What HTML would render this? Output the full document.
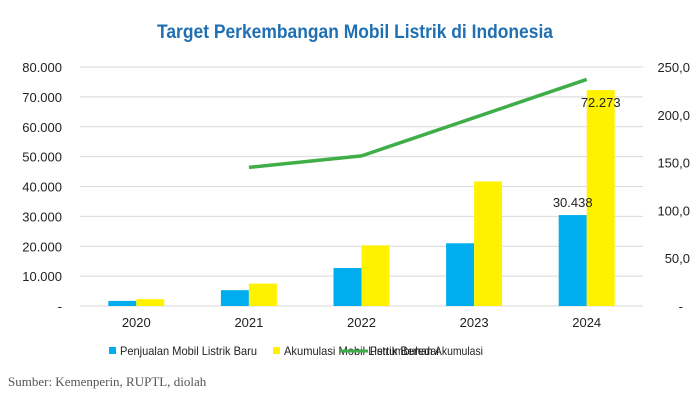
<!DOCTYPE html>
<html><head><meta charset="utf-8"><style>
body{margin:0;background:#fff;}
svg text{font-family:"Liberation Sans",sans-serif;}
</style></head><body>
<svg width="700" height="412" viewBox="0 0 700 412" xmlns="http://www.w3.org/2000/svg">
<text x="157" y="38" font-size="19" font-weight="bold" fill="#1f6fb2" textLength="396" lengthAdjust="spacingAndGlyphs">Target Perkembangan Mobil Listrik di Indonesia</text>
<g id="grid"></g><g id="bars"></g><g id="line"></g><g id="labels"></g>
<g font-size="12" fill="#222">
<rect x="109" y="347" width="7" height="7" fill="#00aeef"/>
<text x="120" y="355" textLength="137" lengthAdjust="spacingAndGlyphs">Penjualan Mobil Listrik Baru</text>
<rect x="273" y="347" width="7" height="7" fill="#fff200"/>
<text x="284" y="355" textLength="156" lengthAdjust="spacingAndGlyphs">Akumulasi Mobil Listrik Beredar</text>
<line x1="340" y1="351" x2="368" y2="351" stroke="#3fae49" stroke-width="3"/>
<text x="372" y="355" textLength="243" lengthAdjust="spacingAndGlyphs" style="display:none"></text>
<text x="370" y="355" textLength="113" lengthAdjust="spacingAndGlyphs">Pertumbuhan Akumulasi</text>
</g>
<text x="8" y="386" font-size="13" fill="#555" style="font-family:'Liberation Serif',serif">Sumber: Kemenperin, RUPTL, diolah</text>
</svg>
<script>
const categories=["2020","2021","2022","2023","2024"];
const sales=[1700,5300,12700,21000,30438];
const cumulative=[2300,7500,20300,41700,72273];
const growth=[null,145,157,197,237];
const leftTicks=[0,10000,20000,30000,40000,50000,60000,70000,80000];
const leftTickLabels=["-","10.000","20.000","30.000","40.000","50.000","60.000","70.000","80.000"];
const rightTicks=[0,50,100,150,200,250];
const rightTickLabels=["-","50,0","100,0","150,0","200,0","250,0"];
const NS="http://www.w3.org/2000/svg";
const x0=80,x1=643,yTop=67,yBot=306;
const band=(x1-x0)/categories.length;
const xc=i=>x0+band*(i+0.5);
const yL=v=>yBot-(v/80000)*(yBot-yTop);
const yR=v=>yBot-(v/250)*(yBot-yTop);
function mk(tag,attrs,parent){const e=document.createElementNS(NS,tag);for(const k in attrs)e.setAttribute(k,attrs[k]);document.getElementById(parent).appendChild(e);return e;}
leftTicks.forEach((t,i)=>{
 const l=mk("line",{x1:x0,x2:x1,y1:yL(t),y2:yL(t),stroke:"#d9d9d9","stroke-width":1},"grid");
 
 
 const tx=mk("text",{x:62,y:yL(t)+5,"text-anchor":"end","font-size":13,fill:"#222"},"labels");
 tx.textContent=leftTickLabels[i];
 
 
});
rightTicks.forEach((t,i)=>{
 const tx=mk("text",{x:t===0?683:690,y:yR(t)+5,"text-anchor":"end","font-size":13,fill:"#222"},"labels");
 tx.textContent=rightTickLabels[i];
 
 
});
const bw=28;
categories.forEach((c,i)=>{
 const b1=mk("rect",{x:xc(i)-bw,y:yL(sales[i]),width:bw,height:yBot-yL(sales[i]),fill:"#00aeef"},"bars");
 
 
 const b2=mk("rect",{x:xc(i),y:yL(cumulative[i]),width:bw,height:yBot-yL(cumulative[i]),fill:"#fff200"},"bars");
 
 
 const tx=mk("text",{x:xc(i),y:327,"text-anchor":"middle","font-size":13,fill:"#222"},"labels");
 tx.textContent=c;
 
 
});
const pts=[];growth.forEach((g,i)=>{if(g!==null)pts.push(xc(i)+","+yR(g));});
const pl=mk("polyline",{points:pts.join(" "),fill:"none",stroke:"#3fae49","stroke-width":3.5},"line");


const last=categories.length-1;
const v1=mk("text",{x:xc(last)-bw/2,y:yL(sales[last])-8,"text-anchor":"middle","font-size":13,fill:"#222"},"labels");
v1.textContent="30.438";


const v2=mk("text",{x:xc(last)+bw/2,y:yL(cumulative[last])+17,"text-anchor":"middle","font-size":13,fill:"#222"},"labels");
v2.textContent="72.273";


</script>
</body></html>
